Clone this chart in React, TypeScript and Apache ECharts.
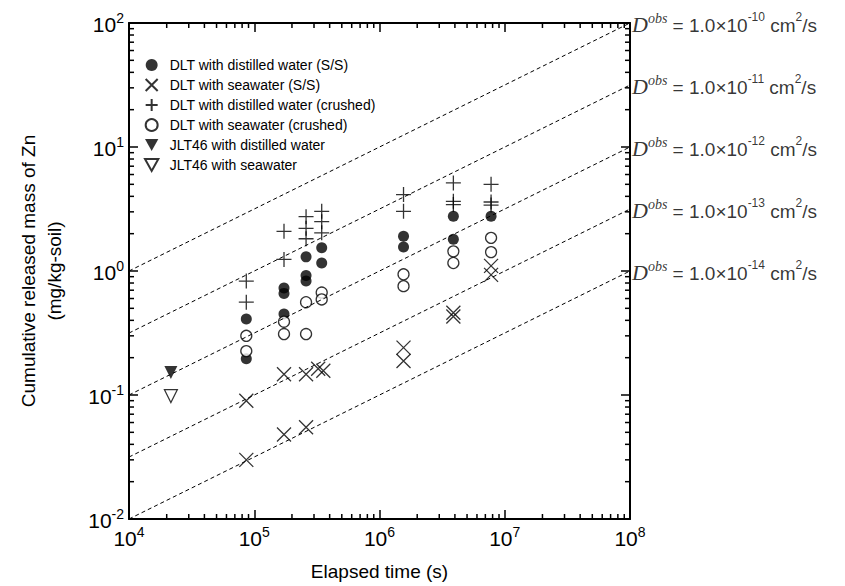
import React, { useEffect, useRef } from 'react';
import * as echarts from 'echarts';

// ---- data ----
const ssDistilledTime = [86400, 86400, 172800, 172800, 172800, 259200, 259200, 259200, 345600, 345600, 1555200, 1555200, 3888000, 3888000, 7776000];
const ssDistilledValue = [0.41, 0.196, 0.73, 0.66, 0.45, 1.3, 0.92, 0.83, 1.54, 1.16, 1.91, 1.56, 2.76, 1.8, 2.76];

const ssSeaTime = [86400, 86400, 172800, 172800, 259200, 259200, 324000, 356000, 1555200, 1555200, 3888000, 3888000, 7776000, 7776000];
const ssSeaValue = [0.09, 0.03, 0.147, 0.048, 0.147, 0.055, 0.163, 0.157, 0.241, 0.188, 0.46, 0.43, 1.1, 0.93];

const crDistilledTime = [86400, 86400, 172800, 172800, 259200, 259200, 259200, 345600, 345600, 345600, 1555200, 1555200, 3888000, 3888000, 3888000, 7776000, 7776000, 7776000];
const crDistilledValue = [0.83, 0.56, 2.09, 1.24, 2.74, 2.21, 1.82, 3.03, 2.5, 2.03, 4.13, 3.03, 5.13, 3.65, 3.43, 5.0, 3.6, 3.4];

const crSeaTime = [86400, 86400, 172800, 172800, 259200, 259200, 345600, 345600, 1555200, 1555200, 3888000, 3888000, 7776000, 7776000];
const crSeaValue = [0.3, 0.226, 0.39, 0.31, 0.56, 0.31, 0.67, 0.59, 0.94, 0.755, 1.44, 1.16, 1.85, 1.42];

const jltDistilledTime = [21600];
const jltDistilledValue = [0.152];
const jltSeaTime = [21600];
const jltSeaValue = [0.098];

const seriesNames = [
  'DLT with distilled water (S/S)',
  'DLT with seawater (S/S)',
  'DLT with distilled water (crushed)',
  'DLT with seawater (crushed)',
  'JLT46 with distilled water',
  'JLT46 with seawater',
];

// reference lines (D^obs)
const dExponents = ['-10', '-11', '-12', '-13', '-14'];
const lineStartTime = 1e4;
const lineEndTime = 1e8;
const lineStartValue = [1, 0.316, 0.1, 0.0316, 0.01];
const lineEndValue = [100, 31.6, 10, 3.16, 1];

const xMin = 1e4, xMax = 1e8, yMin = 0.01, yMax = 100;

const pairs = (t: number[], v: number[]) => t.map((x, i) => [x, v[i]]);

const minorTicks = (lo: number, hi: number) => {
  const out: number[] = [];
  for (let d = lo; d < hi; d++) for (let m = 2; m <= 9; m++) out.push(m * Math.pow(10, d));
  return out;
};

const SANS = 'Liberation Sans, Arial, Helvetica, sans-serif';
const SERIF = 'Liberation Serif, Times New Roman, serif';

const X_PATH = 'path://M0,0L10,10M10,0L0,10';
const PLUS_PATH = 'path://M5,0L5,10M0,5L10,5';
const TRI_PATH = 'path://M0,0L10,0L5,9Z';

export default function App() {
  const ref = useRef<HTMLDivElement>(null);
  useEffect(() => {
    const chart = echarts.init(ref.current!, null, { renderer: 'svg' });
    const tickRich = {
      b: { fontSize: 21, fontFamily: SANS, color: '#000', lineHeight: 24, verticalAlign: 'bottom' },
      s: { fontSize: 14, fontFamily: SANS, color: '#000', lineHeight: 10, verticalAlign: 'top' },
    };
    const expLabel = (v: number) => `{b|10}{s|${Math.round(Math.log10(v))}}`;
    const axisCommon = {
      type: 'log',
      logBase: 10,
      splitLine: { show: false },
      axisLine: { show: true, lineStyle: { color: '#000', width: 2 } },
      axisTick: { show: true, inside: true, length: 9, lineStyle: { color: '#000', width: 1.5 } },
      minorTick: { show: false },
    };
    const option: any = {
      animation: false,
      backgroundColor: '#fff',
      grid: { left: 129, top: 23, width: 501, height: 497 },
      legend: {
        data: seriesNames,
        orient: 'vertical',
        left: 139,
        top: 53,
        itemWidth: 14,
        itemHeight: 12,
        itemGap: 6,
        textStyle: { fontSize: 14, fontFamily: SANS, color: '#000', padding: [0, 0, 0, 6] },
      },
      xAxis: [
        {
          ...axisCommon,
          min: xMin, max: xMax, position: 'bottom',
          axisLabel: { formatter: expLabel, rich: tickRich, margin: 6 },
          name: 'Elapsed time (s)', nameLocation: 'middle', nameGap: 43,
          nameTextStyle: { fontSize: 19, fontFamily: SANS, color: '#000' },
        },
        { ...axisCommon, min: xMin, max: xMax, position: 'top', axisLabel: { show: false } },
      ],
      yAxis: [
        {
          ...axisCommon,
          min: yMin, max: yMax, position: 'left',
          axisLabel: { formatter: expLabel, rich: tickRich, margin: 5 },
          name: 'Cumulative released mass of Zn\n(mg/kg-soil)', nameLocation: 'middle', nameGap: 62,
          nameRotate: 90,
          nameTextStyle: { fontSize: 19, fontFamily: SANS, color: '#000', lineHeight: 26 },
        },
        { ...axisCommon, min: yMin, max: yMax, position: 'right', axisLabel: { show: false } },
      ],
      series: [
        // minor ticks on x (bottom and top)
        {
          type: 'custom', name: 'xminor', clip: false, silent: true,
          data: minorTicks(4, 8).map((v) => [v, 1]),
          renderItem: (p: any, api: any) => {
            const v = api.value(0);
            const b = api.coord([v, yMin]);
            const t = api.coord([v, yMax]);
            return {
              type: 'group',
              children: [
                { type: 'line', shape: { x1: b[0], y1: b[1], x2: b[0], y2: b[1] - 5 }, style: { stroke: '#000', lineWidth: 1.5 } },
                { type: 'line', shape: { x1: t[0], y1: t[1], x2: t[0], y2: t[1] + 5 }, style: { stroke: '#000', lineWidth: 1.5 } },
              ],
            };
          },
        },
        // minor ticks on y (left and right)
        {
          type: 'custom', name: 'yminor', clip: false, silent: true,
          data: minorTicks(-2, 2).map((v) => [1e5, v]),
          renderItem: (p: any, api: any) => {
            const v = api.value(1);
            const l = api.coord([xMin, v]);
            const r = api.coord([xMax, v]);
            return {
              type: 'group',
              children: [
                { type: 'line', shape: { x1: l[0], y1: l[1], x2: l[0] + 5, y2: l[1] }, style: { stroke: '#000', lineWidth: 1.5 } },
                { type: 'line', shape: { x1: r[0], y1: r[1], x2: r[0] - 5, y2: r[1] }, style: { stroke: '#000', lineWidth: 1.5 } },
              ],
            };
          },
        },
        // dashed D^obs lines
        {
          type: 'line', name: 'dlines', data: [], silent: true,
          markLine: {
            silent: true,
            symbol: ['none', 'arrow'],
            symbolSize: [0, 7],
            label: { show: false },
            lineStyle: { type: [4, 3], color: '#000', width: 1 },
            data: lineStartValue.map((s, i) => [
              { coord: [lineStartTime, s] },
              { coord: [lineEndTime, lineEndValue[i]] },
            ]),
          },
        },
        // labels for lines
        {
          type: 'scatter', name: 'dlabels', silent: true, symbolSize: 0,
          data: lineEndValue.map((v) => [lineEndTime, v]),
          label: {
            show: true, position: 'right', distance: 2,
            formatter: (p: any) => `{d|D}{o|obs}{t| = 1.0×10}{e|${dExponents[p.dataIndex]}}{t| cm}{e|2}{t|/s}`,
            rich: {
              d: { fontSize: 22, fontFamily: SERIF, fontStyle: 'italic', color: '#000', lineHeight: 24, verticalAlign: 'bottom' },
              o: { fontSize: 14, fontFamily: SERIF, fontStyle: 'italic', color: '#000', lineHeight: 10, verticalAlign: 'top' },
              t: { fontSize: 19, fontFamily: SANS, color: '#000', lineHeight: 24, verticalAlign: 'bottom' },
              e: { fontSize: 12, fontFamily: SANS, color: '#000', lineHeight: 10, verticalAlign: 'top' },
            },
          },
        },
        {
          type: 'scatter', name: seriesNames[0], data: pairs(ssDistilledTime, ssDistilledValue),
          symbol: 'circle', symbolSize: 11, itemStyle: { color: '#000' },
        },
        {
          type: 'scatter', name: seriesNames[1], data: pairs(ssSeaTime, ssSeaValue),
          symbol: X_PATH, symbolSize: 14, itemStyle: { color: 'transparent', borderColor: '#000', borderWidth: 1.3 },
        },
        {
          type: 'scatter', name: seriesNames[2], data: pairs(crDistilledTime, crDistilledValue),
          symbol: PLUS_PATH, symbolSize: 15, itemStyle: { color: 'transparent', borderColor: '#000', borderWidth: 1.3 },
        },
        {
          type: 'scatter', name: seriesNames[3], data: pairs(crSeaTime, crSeaValue),
          symbol: 'circle', symbolSize: 11, itemStyle: { color: '#fff', borderColor: '#000', borderWidth: 1.3 },
        },
        {
          type: 'scatter', name: seriesNames[4], data: pairs(jltDistilledTime, jltDistilledValue),
          symbol: TRI_PATH, symbolSize: 13, itemStyle: { color: '#000' },
        },
        {
          type: 'scatter', name: seriesNames[5], data: pairs(jltSeaTime, jltSeaValue),
          symbol: TRI_PATH, symbolSize: 13, itemStyle: { color: '#fff', borderColor: '#000', borderWidth: 1.2 },
        },
      ],
    };
    chart.setOption(option);
    return () => chart.dispose();
  }, []);
  return (
    <div
      ref={ref}
      style={{ position: 'fixed', left: 0, top: 0, width: 845, height: 586, background: '#fff' }}
    />
  );
}
